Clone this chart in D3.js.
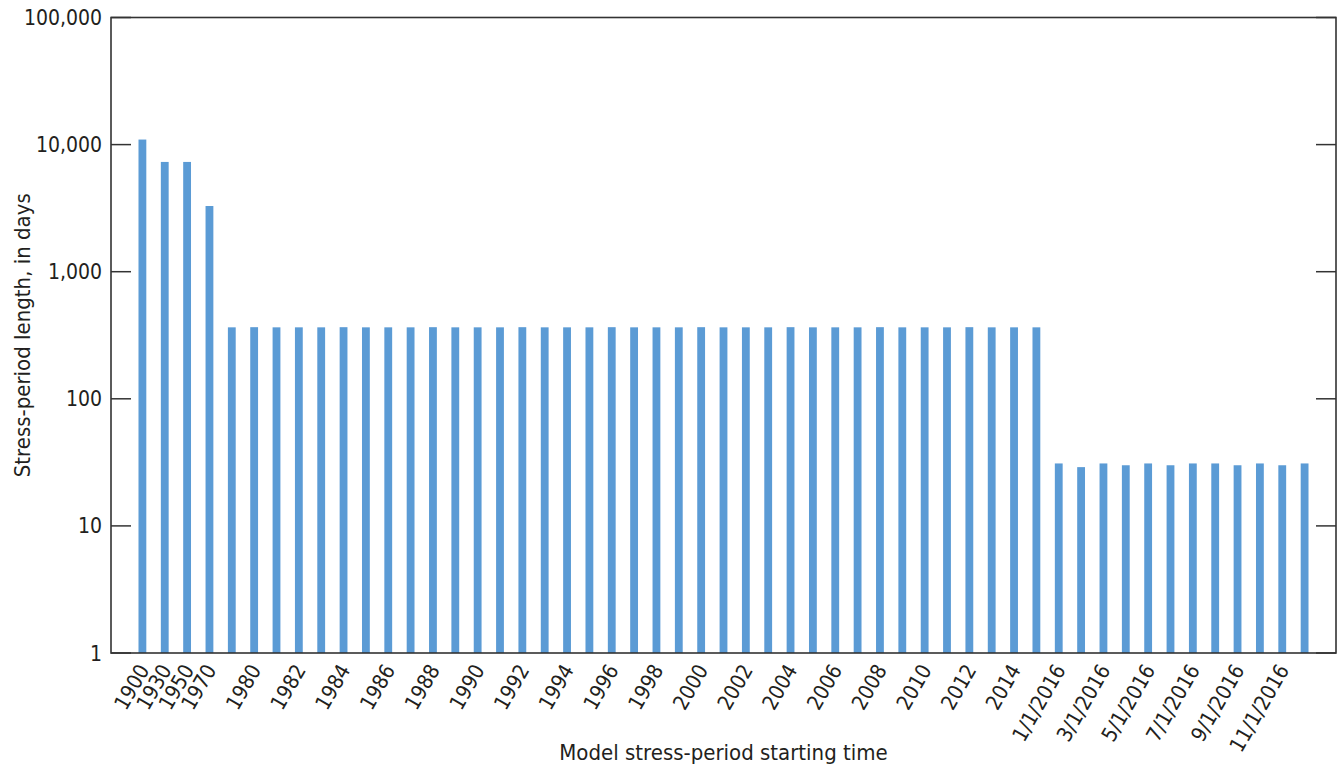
<!DOCTYPE html>
<html>
<head>
<meta charset="utf-8">
<script src="https://cdn.jsdelivr.net/npm/d3@7"></script>
<style>
  body { margin: 0; background: #fff; }
  svg text { font-family: "Liberation Sans Narrow", "DejaVu Sans Condensed", sans-serif; fill: #231f20; }
</style>
</head>
<body>
<div id="chart"></div>
<script>
// stress periods: start label and length in days
const periods = [
  "1900", "1930", "1950", "1970",
  "1979", "1980", "1981", "1982", "1983", "1984", "1985", "1986", "1987", "1988",
  "1989", "1990", "1991", "1992", "1993", "1994", "1995", "1996", "1997", "1998",
  "1999", "2000", "2001", "2002", "2003", "2004", "2005", "2006", "2007", "2008",
  "2009", "2010", "2011", "2012", "2013", "2014", "2015",
  "1/1/2016", "2/1/2016", "3/1/2016", "4/1/2016", "5/1/2016", "6/1/2016",
  "7/1/2016", "8/1/2016", "9/1/2016", "10/1/2016", "11/1/2016", "12/1/2016"
]
const lengths = [
  10957, 7305, 7305, 3287,
  365, 366, 365, 365, 365, 366, 365, 365, 365, 366,
  365, 365, 365, 366, 365, 365, 365, 366, 365, 365,
  365, 366, 365, 365, 365, 366, 365, 365, 365, 366,
  365, 365, 365, 366, 365, 365, 365,
  31, 29, 31, 30, 31, 30,
  31, 31, 30, 31, 30, 31
]
const tickLabels = [
  "1900", "1930", "1950", "1970",
  "1980", "1982", "1984", "1986", "1988", "1990", "1992", "1994", "1996", "1998",
  "2000", "2002", "2004", "2006", "2008", "2010", "2012", "2014",
  "1/1/2016", "3/1/2016", "5/1/2016", "7/1/2016", "9/1/2016", "11/1/2016"
]
const yTicks = [1, 10, 100, 1000, 10000, 100000]

const width = 1342, height = 772
const margin = {top: 17.5, right: 6, bottom: 119, left: 111}

const svg = d3.select("#chart").append("svg")
    .attr("width", width)
    .attr("height", height)

const x = d3.scaleBand()
    .domain(periods)
    .range([margin.left, width - margin.right])
    .paddingInner(0.65)
    .paddingOuter(1.23)

const y = d3.scaleLog()
    .domain([1, 100000])
    .range([height - margin.bottom, margin.top])

const x0 = margin.left, x1 = width - margin.right
const yb = height - margin.bottom

// bars
svg.append("g")
    .selectAll("rect")
    .data(periods)
    .enter()
    .append("rect")
    .attr("x", d => x(d))
    .attr("width", x.bandwidth())
    .attr("y", (d, i) => y(lengths[i]))
    .attr("height", (d, i) => yb - y(lengths[i]))
    .attr("fill", "#5b9bd5")

// inward ticks on both sides
const tg = svg.append("g").attr("stroke", "#333").attr("stroke-width", 1.5)
yTicks.forEach(t => {
    tg.append("line").attr("x1", x0).attr("x2", x0 + 20).attr("y1", y(t)).attr("y2", y(t))
    tg.append("line").attr("x1", x1 - 20).attr("x2", x1).attr("y1", y(t)).attr("y2", y(t))
})

// frame
svg.append("rect")
    .attr("x", x0).attr("y", margin.top)
    .attr("width", x1 - x0).attr("height", yb - margin.top)
    .attr("fill", "none").attr("stroke", "#333").attr("stroke-width", 1.6)

// y tick labels
svg.append("g")
    .selectAll("text")
    .data(yTicks)
    .enter()
    .append("text")
    .attr("x", x0 - 9)
    .attr("y", d => y(d))
    .attr("dy", "0.36em")
    .attr("text-anchor", "end")
    .style("font-size", "21px")
    .text(d => d3.format(",")(d))

// x tick labels (rotated)
svg.append("g")
    .selectAll("text")
    .data(tickLabels)
    .enter()
    .append("text")
    .attr("transform", d => "translate(" + (x(d) + x.bandwidth() / 2 + 1) + "," + (yb + 13) + ") rotate(-60)")
    .attr("dy", "0.36em")
    .attr("text-anchor", "end")
    .style("font-size", "21px")
    .text(d => d)

// axis titles
svg.append("text")
    .attr("x", (x0 + x1) / 2)
    .attr("y", 760)
    .attr("text-anchor", "middle")
    .style("font-size", "22px")
    .text("Model stress-period starting time")

svg.append("text")
    .attr("transform", "translate(30," + (margin.top + yb) / 2 + ") rotate(-90)")
    .attr("text-anchor", "middle")
    .style("font-size", "22px")
    .text("Stress-period length, in days")
</script>
</body>
</html>
